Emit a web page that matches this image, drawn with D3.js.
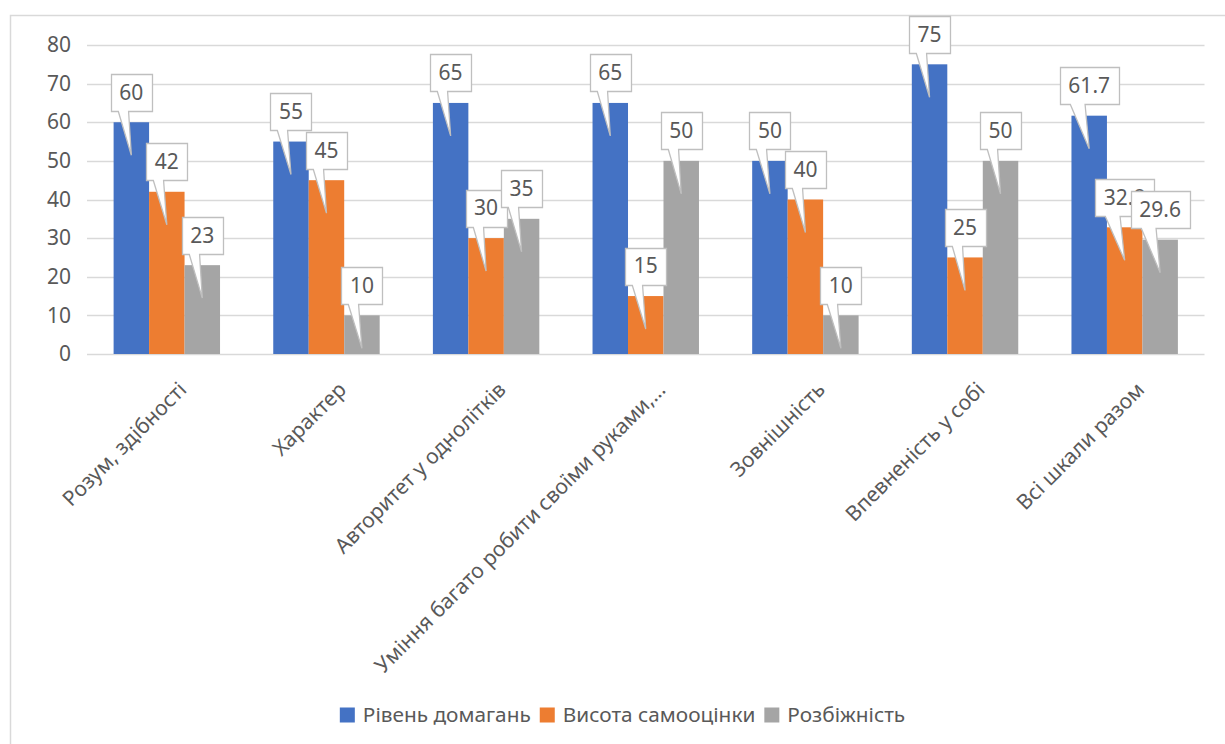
<!DOCTYPE html>
<html>
<head>
<meta charset="utf-8">
<script src="https://cdn.jsdelivr.net/npm/d3@7/dist/d3.min.js"></script>
<style>
  body { margin: 0; background: #fff; }
  svg text { font-family: "Noto Sans", "Open Sans", sans-serif; fill: #595959; }
</style>
</head>
<body>
<svg id="chart" width="1225" height="744"></svg>
<script>
'use strict';

const categories = [
  'Розум, здібності', 'Характер', 'Авторитет у однолітків',
  'Уміння багато робити своїми руками,…', 'Зовнішність',
  'Впевненість у собі', 'Всі шкали разом'];
const seriesNames = ['Рівень домагань', 'Висота самооцінки', 'Розбіжність'];
const aspiration = [60, 55, 65, 65, 50, 75, 61.7];
const selfEsteem = [42, 45, 30, 15, 40, 25, 32.8];
const discrepancy = [23, 10, 35, 50, 10, 50, 29.6];
const yTicks = [0, 10, 20, 30, 40, 50, 60, 70, 80];

const colours = ['#4472C4', '#ED7D31', '#A5A5A5'];
const series = [aspiration, selfEsteem, discrepancy];

const svg = d3.select('#chart');
const margin = {top: 45, right: 20, bottom: 390, left: 87};
const width = 1204.5 - margin.left;
const height = 354 - margin.top;

// chart frame
svg.append('rect')
  .attr('x', 10.5).attr('y', 15.5)
  .attr('width', 1240).attr('height', 760)
  .attr('fill', 'none')
  .attr('stroke', '#D9D9D9')
  .attr('stroke-width', 1.5);

const g = svg.append('g')
  .attr('transform', 'translate(' + margin.left + ',' + margin.top + ')');

const x = d3.scaleBand()
  .domain(categories)
  .range([0, width])
  .paddingInner(1 / 3)
  .paddingOuter(1 / 6);

const xSeries = d3.scaleBand()
  .domain(d3.range(series.length))
  .range([0, x.bandwidth()]);

const y = d3.scaleLinear()
  .domain([0, 80])
  .range([height, 0]);

// gridlines
g.append('g')
  .selectAll('line')
  .data(yTicks)
  .enter()
  .append('line')
  .attr('x1', 0).attr('x2', width)
  .attr('y1', d => Math.round(y(d)) + 0.5)
  .attr('y2', d => Math.round(y(d)) + 0.5)
  .attr('stroke', '#D9D9D9')
  .attr('stroke-width', 1.3);

// y axis labels
const yAxis = d3.axisLeft(y).tickValues(yTicks).tickSize(0).tickPadding(16);
g.append('g')
  .call(yAxis)
  .call(a => a.select('.domain').remove())
  .selectAll('text')
  .style('font-size', '21px')
  .attr('fill', '#595959');

// bars
const groups = g.selectAll('.group')
  .data(categories)
  .enter()
  .append('g')
  .attr('transform', d => 'translate(' + x(d) + ',0)');

series.forEach((values, si) => {
  groups.append('rect')
    .attr('x', xSeries(si))
    .attr('y', (d, i) => y(values[i]))
    .attr('width', xSeries.bandwidth())
    .attr('height', (d, i) => height - y(values[i]))
    .attr('fill', colours[si]);
});

// x axis category labels
const xAxis = d3.axisBottom(x).tickSize(0).tickPadding(0);
g.append('g')
  .attr('transform', 'translate(0,' + height + ')')
  .call(xAxis)
  .call(a => a.select('.domain').remove())
  .selectAll('text')
  .style('font-size', '21px')
  .attr('fill', '#595959')
  .attr('text-anchor', 'end')
  .attr('dy', 0)
  .attr('transform', 'translate(21,37) rotate(-45)');

// callout labels
const boxH = 37;
const boxGap = 11.5;
const tipDepth = 33;

series.forEach((values, si) => {
  values.forEach((v, i) => {
    const cx = x(categories[i]) + xSeries(si) + xSeries.bandwidth() / 2;
    const top = y(v);
    const label = g.append('g');
    const text = label.append('text')
      .attr('x', cx)
      .attr('y', top - boxGap - boxH / 2)
      .attr('dy', '0.35em')
      .attr('text-anchor', 'middle')
      .style('font-size', '21px')
      .attr('fill', '#404040')
      .text(String(v));
    const tw = text.node().getComputedTextLength();
    const w = Math.round(tw + 17);
    const x0 = Math.round(cx - w / 2) + 0.5;
    const y1 = Math.round(top - boxGap) + 0.5;
    const y0 = y1 - boxH;
    const path = d3.path();
    path.moveTo(x0, y0);
    path.lineTo(x0 + w, y0);
    path.lineTo(x0 + w, y1);
    path.lineTo(x0 + w * 5 / 12, y1);
    path.lineTo(cx, top + tipDepth);
    path.lineTo(x0 + w * 2 / 12, y1);
    path.lineTo(x0, y1);
    path.closePath();
    label.insert('path', 'text')
      .attr('d', path.toString())
      .attr('fill', '#fff')
      .attr('stroke', '#BFBFBF')
      .attr('stroke-width', 1.3);
  });
});

// legend
const legend = svg.append('g');
let lx = 0;
seriesNames.forEach((name, i) => {
  const item = legend.append('g');
  item.append('rect')
    .attr('x', 0).attr('y', -7.5)
    .attr('width', 15).attr('height', 15)
    .attr('fill', colours[i]);
  const t = item.append('text')
    .attr('x', 23).attr('dy', '0.35em')
    .style('font-size', '20.8px')
    .text(name);
  item.attr('transform', 'translate(' + lx + ',0)');
  lx += 23 + t.node().getComputedTextLength() + 9;
});
const legendWidth = lx - 9;
legend.attr('transform', 'translate(' + (622.5 - legendWidth / 2) + ',715)');
</script>
</body>
</html>
